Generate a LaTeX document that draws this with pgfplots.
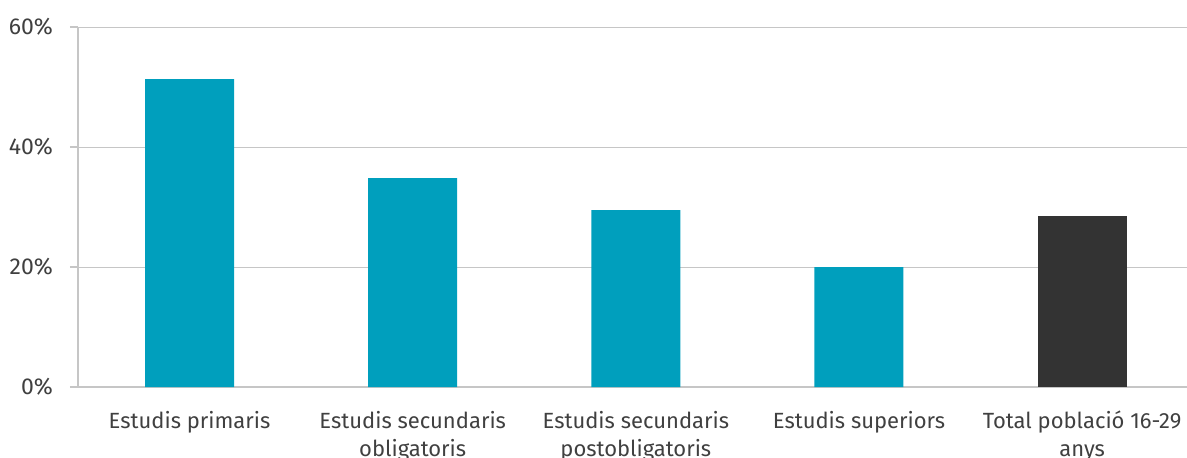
\documentclass[border=0pt]{standalone}
\usepackage{fontspec}
\setmainfont{Fira Sans}
\usepackage{pgfplots}
\pgfplotsset{compat=1.18}
\definecolor{barTeal}{HTML}{009FBD}
\definecolor{barDark}{HTML}{333333}
\definecolor{gridGray}{HTML}{C6C6C6}
\definecolor{labelGray}{HTML}{404040}

\begin{document}
\begin{tikzpicture}
\useasboundingbox (-39pt,-35pt) rectangle (554.5pt,193.5pt);
\clip (-39pt,-35pt) rectangle (554.5pt,193.5pt);
\begin{axis}[
  at={(0,0)}, anchor=south west,
  scale only axis, width=554.5pt, height=180pt,
  xmin=-0.5, xmax=4.47, ymin=0, ymax=60,
  ybar, bar width=44.5pt, bar shift=0pt,
  axis x line*=bottom, axis y line*=left,
  axis line style={gridGray, line width=0.6pt},
  ymajorgrids, major grid style={gridGray, line width=0.5pt},
  ytick={0,20,40,60}, yticklabels={0\%,20\%,40\%,60\%},
  xtick={0,1,2,3,4},
  xticklabels={Estudis primaris, Estudis secundaris\\obligatoris, Estudis secundaris\\postobligatoris, Estudis superiors, Total població 16-29\\anys},
  xtick style={draw=none},
  ytick style={draw=gridGray, line width=0.6pt},
  tick align=outside, major tick length=4pt,
  extra x ticks={-0.5,0.5,1.5,2.5,3.5}, extra x tick labels={},
  extra x tick style={grid=none, tick style={draw=gridGray, line width=0.6pt}},
  xticklabel style={align=center, font=\fontsize{11}{14}\selectfont, text=labelGray, yshift=-4.5pt},
  yticklabel style={font=\fontsize{11.5}{14}\selectfont, text=labelGray, xshift=-5pt},
]
\addplot[fill=barTeal, draw=none] coordinates {(0,51.3) (1,34.8) (2,29.5) (3,20.0)};
\addplot[fill=barDark, draw=none] coordinates {(4,28.5)};
\end{axis}
\end{tikzpicture}
\end{document}
